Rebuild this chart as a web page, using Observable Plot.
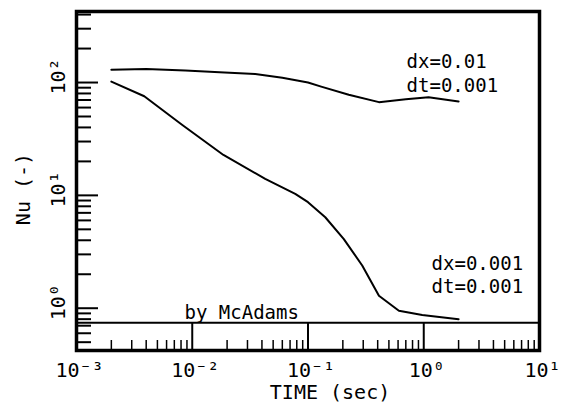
<!DOCTYPE html>
<html>
<head>
<meta charset="utf-8">
<script src="https://cdn.jsdelivr.net/npm/d3@7"></script>
<script src="https://cdn.jsdelivr.net/npm/@observablehq/plot@0.6"></script>
<style>
  html, body { margin: 0; padding: 0; background: #fff; }
  #chart { width: 571px; height: 405px; }
</style>
</head>
<body>
<div id="chart"></div>
<script>
// Curve dx=0.01, dt=0.001
const upperTime = [0.002, 0.004, 0.0087, 0.019, 0.035, 0.06, 0.1, 0.13, 0.225, 0.41, 0.7, 1.1, 2.0];
const upperNu   = [130, 132, 128, 123, 119, 110, 100, 92, 78, 67, 71, 74, 68];
// Curve dx=0.001, dt=0.001
const lowerTime = [0.002, 0.00385, 0.0081, 0.0186, 0.0427, 0.0776, 0.1, 0.141, 0.204, 0.294, 0.41, 0.61, 0.97, 2.0];
const lowerNu   = [102, 75.6, 42.4, 22.8, 14.0, 10.3, 8.7, 6.4, 4.1, 2.39, 1.29, 0.95, 0.87, 0.80];
// McAdams reference value
const mcadamsNu = 0.745;

const upperLabel = "dx=0.01\ndt=0.001";
const lowerLabel = "dx=0.001\ndt=0.001";
const mcadamsLabel = "by McAdams";
const xTitle = "TIME (sec)";
const yTitle = "Nu (-)";

const xDomain = [1e-3, 1e1];
const yDomain = [0.422, 426];
const xMajor = [1e-3, 1e-2, 1e-1, 1e0, 1e1];
const xMajorLabels = ["10⁻³", "10⁻²", "10⁻¹", "10⁰", "10¹"];
const xInnerDecades = [1e-2, 1e-1, 1e0];
const yMajor = [1e0, 1e1, 1e2];
const yMajorLabels = ["10⁰", "10¹", "10²"];
const multipliers = [2, 3, 4, 5, 6, 7, 8, 9];
const xMinor = [1e-3, 1e-2, 1e-1, 1e0].flatMap(d => multipliers.map(m => d * m));
const yMinor = [0.1, 1, 10, 100].flatMap(d => multipliers.map(m => d * m)).filter(v => v > yDomain[0] && v < yDomain[1]);

const upper = upperTime.map((t, i) => ({t, nu: upperNu[i]}));
const lower = lowerTime.map((t, i) => ({t, nu: lowerNu[i]}));

const font = "DejaVu Sans Mono";

const chart = Plot.plot({
  width: 571,
  height: 405,
  marginLeft: 76,
  marginRight: 32,
  marginTop: 11,
  marginBottom: 55,
  style: {fontFamily: font, background: "#fff", color: "#000"},
  x: {type: "log", domain: xDomain},
  y: {type: "log", domain: yDomain},
  marks: [
    // inward minor and major ticks
    Plot.axisX(xMinor, {tickSize: -10, text: null, strokeWidth: 1.5, label: null}),
    Plot.axisY(yMinor, {tickSize: -15, text: null, strokeWidth: 2, label: null}),
    Plot.axisY(yMajor, {tickSize: -22, text: null, strokeWidth: 2, label: null}),
    // McAdams reference
    Plot.ruleY([mcadamsNu], {strokeWidth: 2}),
    Plot.ruleX(xInnerDecades, {y1: yDomain[0], y2: mcadamsNu, strokeWidth: 2}),
    Plot.text([mcadamsLabel], {frameAnchor: "left", y: mcadamsNu, dx: 108, dy: -4,
      textAnchor: "start", lineAnchor: "bottom", fontSize: 19}),
    // curves
    Plot.line(upper, {x: "t", y: "nu", strokeWidth: 2}),
    Plot.line(lower, {x: "t", y: "nu", strokeWidth: 2}),
    Plot.text([upper[upper.length - 1]], {x: "t", y: "nu", text: () => upperLabel,
      textAnchor: "start", lineAnchor: "bottom", lineHeight: 1.27, dx: -52, dy: -9, fontSize: 19}),
    Plot.text([lower[lower.length - 1]], {x: "t", y: "nu", text: () => lowerLabel,
      textAnchor: "start", lineAnchor: "bottom", lineHeight: 1.22, dx: -27, dy: -26, fontSize: 19}),
    // tick labels
    Plot.text(xMajor, {x: d => d, frameAnchor: "bottom", text: (d, i) => xMajorLabels[i],
      lineAnchor: "top", dy: 12, dx: 3, fontSize: 20}),
    Plot.text(yMajor, {y: d => d, frameAnchor: "left", text: (d, i) => yMajorLabels[i],
      rotate: -90, textAnchor: "middle", lineAnchor: "middle", dx: -18, dy: -6, fontSize: 20}),
    // axis titles
    Plot.text([xTitle], {frameAnchor: "bottom", dx: 22, dy: 48, lineAnchor: "bottom", fontSize: 20}),
    Plot.text([yTitle], {frameAnchor: "left", dx: -53, dy: 8, rotate: -90,
      textAnchor: "middle", lineAnchor: "middle", fontSize: 20}),
    Plot.frame({strokeWidth: 3.5})
  ]
});
document.getElementById("chart").appendChild(chart);
</script>
</body>
</html>
